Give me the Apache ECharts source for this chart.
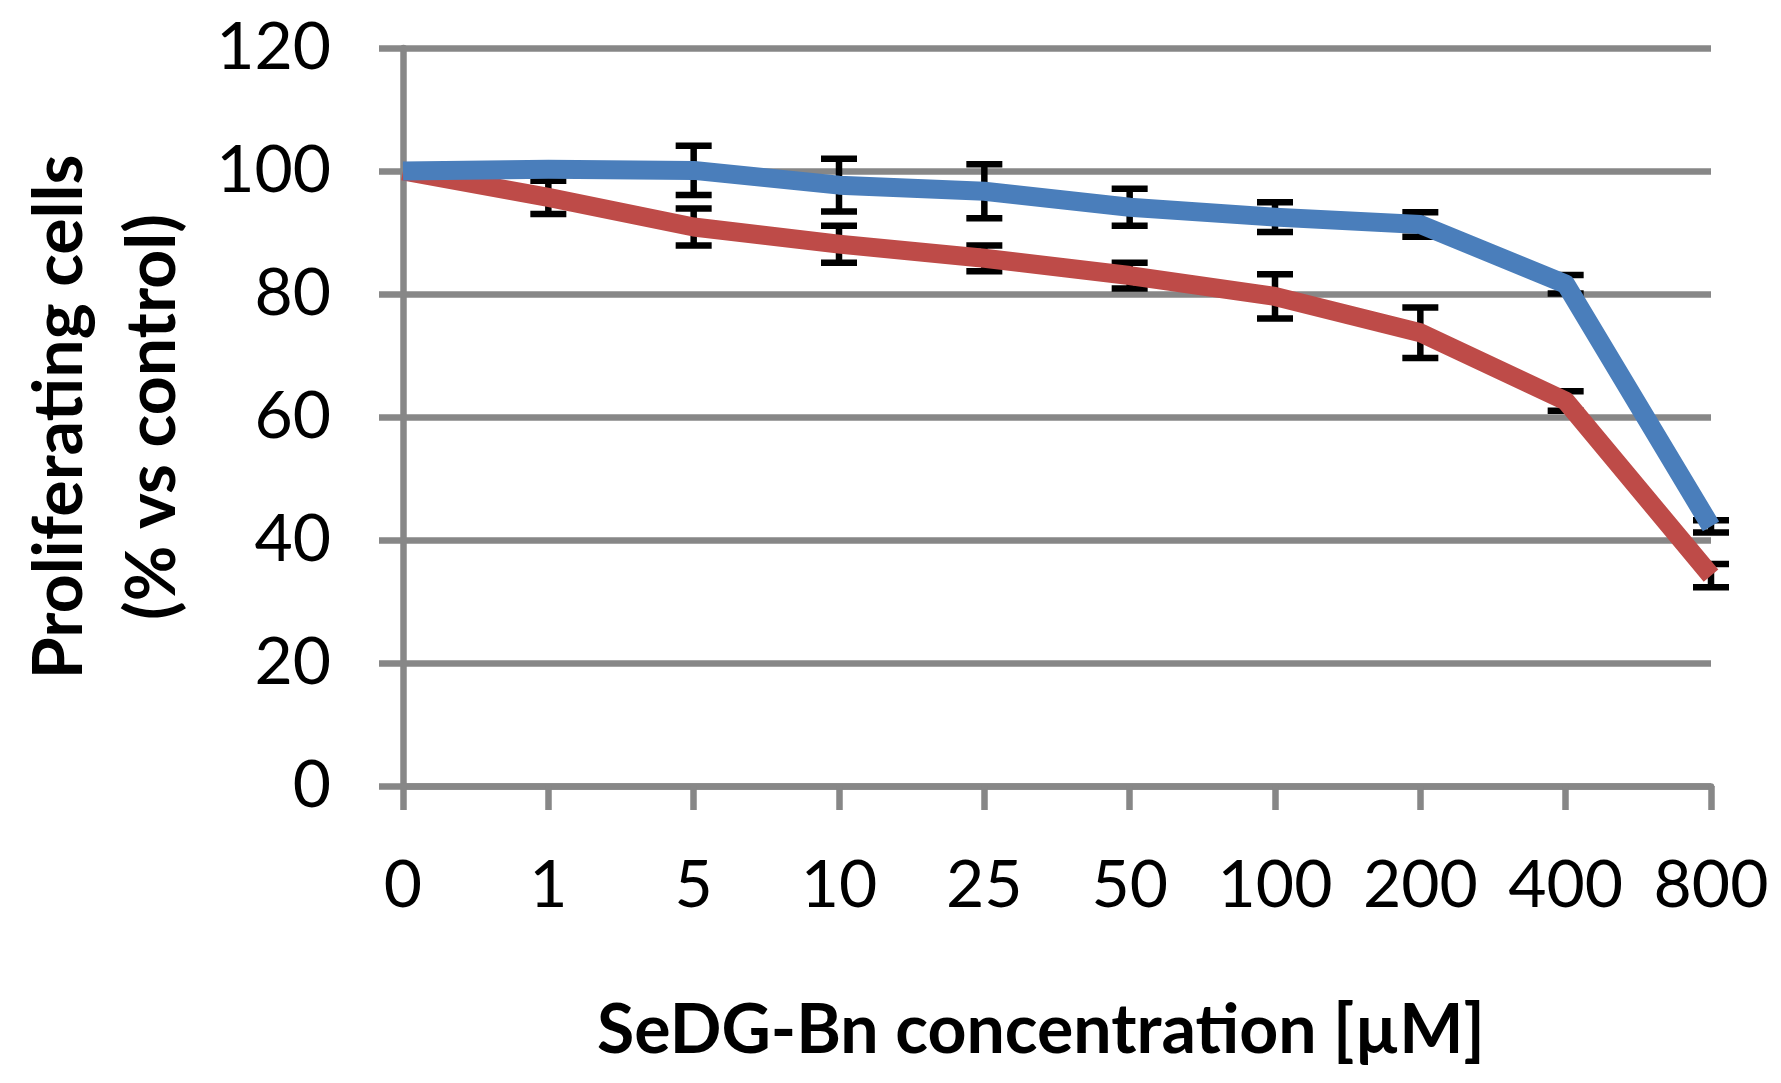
<!DOCTYPE html>
<html>
<head>
<meta charset="utf-8">
<script src="https://cdn.jsdelivr.net/npm/echarts@6/dist/echarts.min.js"></script>
<style>
html,body{margin:0;padding:0;background:#fff;}
#chart{width:1781px;height:1083px;}
</style>
</head>
<body>
<div id="chart"></div>
<script>
var categories = ['0','1','5','10','25','50','100','200','400','800'];
var blueValues = [100, 100.3, 100.1, 97.7, 96.7, 94.1, 92.5, 91.3, 81.6, 42.2];
var blueErrors = [0, 0.8, 4.0, 4.3, 4.4, 3.0, 2.4, 2.0, 1.5, 1.0];
var redValues = [100, 95.7, 90.9, 88.1, 85.8, 83.0, 79.6, 73.7, 62.6, 34.2];
var redErrors = [0, 2.7, 3.0, 3.0, 2.1, 2.1, 3.6, 4.1, 1.6, 1.9];
var yTicks = [0, 20, 40, 60, 80, 100, 120];
var xTitle = 'SeDG-Bn concentration [µM]';
var yTitle = 'Proliferating cells\n(% vs control)';

function errData(vals, errs) {
  return vals.map(function (v, i) { return [i, v - errs[i], v + errs[i]]; });
}

var gray = '#878787';
var font = 'Lato';

function errRender(params, api) {
  var x = api.value(0);
  var low = api.value(1), high = api.value(2);
  if (high - low <= 0) return null;
  var lo = api.coord([x, low]);
  var hi = api.coord([x, high]);
  var hw = 18;
  var st = { stroke: '#000', lineWidth: 6.5, fill: null };
  return {
    type: 'group',
    children: [
      { type: 'line', shape: { x1: lo[0], y1: lo[1], x2: hi[0], y2: hi[1] }, style: st },
      { type: 'line', shape: { x1: lo[0] - hw, y1: lo[1], x2: lo[0] + hw, y2: lo[1] }, style: st },
      { type: 'line', shape: { x1: hi[0] - hw, y1: hi[1], x2: hi[0] + hw, y2: hi[1] }, style: st }
    ]
  };
}

var chart = echarts.init(document.getElementById('chart'), null, { renderer: 'canvas' });
chart.setOption({
  animation: false,
  backgroundColor: '#fff',
  grid: { left: 403, right: 70, top: 48, bottom: 297, containLabel: false, outerBoundsMode: 'none' },
  xAxis: {
    type: 'category',
    data: categories,
    boundaryGap: false,
    axisLine: { show: true, lineStyle: { color: gray, width: 6.5 } },
    axisTick: { show: true, length: 24, interval: 0, lineStyle: { color: gray, width: 6.5 } },
    axisLabel: { interval: 0, margin: 67, color: '#000', fontFamily: font, fontSize: 66 },
    splitLine: { show: false },
    name: xTitle,
    nameLocation: 'middle',
    nameGap: 211,
    nameTextStyle: { color: '#000', fontFamily: font, fontWeight: 'bold', fontSize: 68, padding: [0, 32, 0, 0] }
  },
  yAxis: {
    type: 'value',
    min: yTicks[0],
    max: yTicks[yTicks.length - 1],
    interval: 20,
    axisLine: { show: true, lineStyle: { color: gray, width: 6.5 } },
    axisTick: { show: true, length: 24, lineStyle: { color: gray, width: 6.5 } },
    axisLabel: { margin: 72, color: '#000', fontFamily: font, fontSize: 66 },
    splitLine: { show: true, lineStyle: { color: gray, width: 6.5 } },
    name: yTitle,
    nameLocation: 'middle',
    nameRotate: 90,
    nameGap: 203,
    nameTextStyle: { color: '#000', fontFamily: font, fontWeight: 'bold', fontSize: 68, lineHeight: 93 }
  },
  series: [
    {
      type: 'custom', name: 'redErr', renderItem: errRender,
      data: errData(redValues, redErrors), z: 2, clip: false,
      encode: { x: 0, y: [1, 2] }
    },
    {
      type: 'custom', name: 'blueErr', renderItem: errRender,
      data: errData(blueValues, blueErrors), z: 2, clip: false,
      encode: { x: 0, y: [1, 2] }
    },
    {
      type: 'line', name: 'red', data: redValues, z: 3,
      symbol: 'none', clip: true,
      lineStyle: { color: '#BE4B48', width: 19, cap: 'butt', join: 'round' }
    },
    {
      type: 'line', name: 'blue', data: blueValues, z: 4,
      symbol: 'none', clip: true,
      lineStyle: { color: '#4A7EBB', width: 19, cap: 'butt', join: 'round' }
    }
  ]
});
</script>
</body>
</html>
